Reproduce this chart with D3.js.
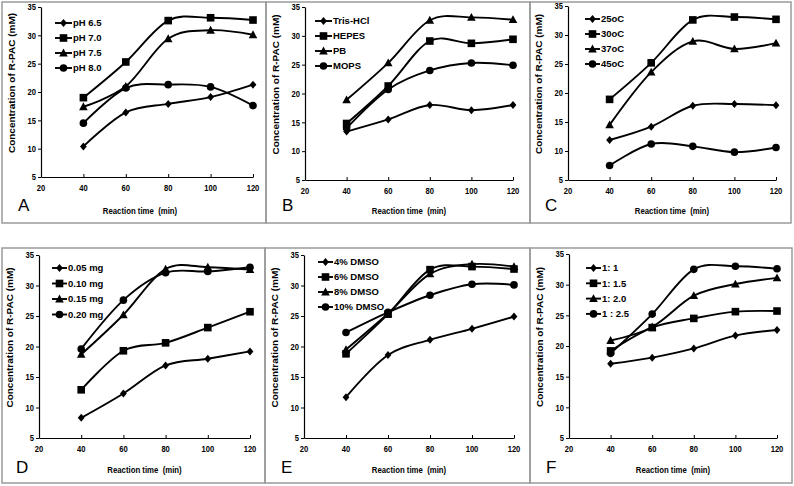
<!DOCTYPE html>
<html><head><meta charset="utf-8">
<script src="https://cdn.jsdelivr.net/npm/d3@7"></script>
<style>body{margin:0;background:#fff;} text{font-family:"Liberation Sans",Arial,Helvetica,sans-serif;white-space:pre;}</style>
</head><body><svg id="c" width="794" height="486"></svg>
<script>
// ---------- data ----------
const times = [40, 60, 80, 100, 120];
const xTicks = [20, 40, 60, 80, 100, 120];
const yTicks = [5, 10, 15, 20, 25, 30, 35];
const xTitle = "Reaction time  (min)";
const yTitle = "Concentration of R-PAC (mM)";
const letters = ["A", "B", "C", "D", "E", "F"];
const markerOrder = ["diamond", "square", "triangle", "circle"];

const namesA = ["pH 6.5", "pH 7.0", "pH 7.5", "pH 8.0"];
const valuesA = [
  [10.4, 16.4, 17.9, 19.1, 21.3],
  [19.0, 25.3, 32.6, 33.1, 32.7],
  [17.4, 21.0, 29.4, 30.9, 30.1],
  [14.5, 20.7, 21.3, 20.9, 17.6]
];
const namesB = ["Tris-HCl", "HEPES", "PB", "MOPS"];
const valuesB = [
  [13.4, 15.5, 18.0, 17.1, 18.0],
  [14.8, 21.3, 29.1, 28.7, 29.4],
  [18.9, 25.3, 32.7, 33.2, 32.8],
  [14.0, 20.7, 24.0, 25.3, 24.9]
];
const namesC = ["25oC", "30oC", "37oC", "45oC"];
const valuesC = [
  [11.9, 14.2, 17.8, 18.1, 17.9],
  [18.9, 25.2, 32.6, 33.1, 32.7],
  [14.5, 23.6, 28.9, 27.6, 28.6],
  [7.5, 11.2, 10.8, 9.8, 10.6]
];
const namesD = ["0.05 mg", "0.10 mg", "0.15 mg", "0.20 mg"];
const valuesD = [
  [8.3, 12.3, 16.9, 18.0, 19.2],
  [12.9, 19.3, 20.6, 23.1, 25.7],
  [18.7, 25.2, 32.7, 33.0, 32.6],
  [19.6, 27.6, 32.1, 32.3, 33.0]
];
const namesE = ["4% DMSO", "6% DMSO", "8% DMSO", "10% DMSO"];
const valuesE = [
  [11.7, 18.6, 21.1, 22.9, 24.9],
  [18.8, 25.3, 32.6, 33.1, 32.7],
  [19.5, 25.4, 31.9, 33.5, 33.1],
  [22.3, 25.6, 28.4, 30.2, 30.1]
];
const namesF = ["1: 1", "1: 1.5", "1: 2.0", "1 : 2.5"];
const valuesF = [
  [17.1, 18.1, 19.6, 21.7, 22.6],
  [19.2, 23.0, 24.5, 25.6, 25.7],
  [20.9, 23.1, 28.2, 30.1, 31.1],
  [18.8, 25.2, 32.5, 33.0, 32.6]
];
const panelNames = [namesA, namesB, namesC, namesD, namesE, namesF];
const panelValues = [valuesA, valuesB, valuesC, valuesD, valuesE, valuesF];

// ---------- layout ----------
const layout = [
  {frame: [2, 2, 266, 223], x0: 41, x1: 253, yT: 7, yB: 177, leg: [55, 72, 23, 15], xtc: 140, base: 211, xtb: 214},
  {frame: [266, 2, 530, 223], x0: 305, x1: 513, yT: 7, yB: 180, leg: [315, 332, 21, 15], base: 211, xtb: 214},
  {frame: [530, 2, 791, 223], x0: 568, x1: 776, yT: 6, yB: 180, leg: [585, 600, 19, 15], base: 211, xtb: 214},
  {frame: [2, 248, 265, 483], x0: 39, x1: 250, yT: 255, yB: 438, leg: [52, 67, 268, 15.5], base: 473, xtb: 473},
  {frame: [265, 248, 530, 483], x0: 304, x1: 514, yT: 255, yB: 438, leg: [318, 333, 262, 15], base: 473, xtb: 473},
  {frame: [530, 248, 792, 483], x0: 569, x1: 777, yT: 254, yB: 438, leg: [586, 601, 268, 15.3], base: 473, xtb: 473}
];

const svg = d3.select("#c");

function marker(g, type, x, y) {
  if (type === "diamond") {
    g.append("path").attr("d", `M${x},${y-4}L${x+3.4},${y}L${x},${y+4}L${x-3.4},${y}Z`).attr("fill", "#000");
  } else if (type === "square") {
    g.append("rect").attr("x", x - 3.8).attr("y", y - 3.8).attr("width", 7.6).attr("height", 7.6).attr("fill", "#000");
  } else if (type === "triangle") {
    g.append("path").attr("d", `M${x},${y-4.4}L${x+4.3},${y+3.4}L${x-4.3},${y+3.4}Z`).attr("fill", "#000");
  } else {
    g.append("circle").attr("cx", x).attr("cy", y).attr("r", 3.8).attr("fill", "#000");
  }
}

layout.forEach((L, i) => {
  const g = svg.append("g");
  const [fx0, fy0, fx1, fy1] = L.frame;
  g.append("rect").attr("x", fx0).attr("y", fy0).attr("width", fx1 - fx0).attr("height", fy1 - fy0)
    .attr("fill", "none").attr("stroke", "#9a9a9a").attr("stroke-width", 1.5);

  const x = d3.scaleLinear().domain([20, 120]).range([L.x0, L.x1]);
  const y = d3.scaleLinear().domain([5, 35]).range([L.yB, L.yT]);

  // axes
  const xa = g.append("g").attr("transform", `translate(0,${L.yB})`)
    .call(d3.axisBottom(x).tickValues(xTicks).tickSizeInner(-3).tickSizeOuter(0).tickPadding(0));
  const ya = g.append("g").attr("transform", `translate(${L.x0},0)`)
    .call(d3.axisLeft(y).tickValues(yTicks).tickSize(3).tickSizeOuter(0).tickPadding(0));
  [xa, ya].forEach(a => {
    a.select(".domain").attr("stroke", "#000").attr("stroke-width", 1.2);
    a.selectAll(".tick line").attr("stroke", "#000").attr("stroke-width", 1);
    a.selectAll("text").remove();
  });
  xTicks.forEach(t => {
    g.append("text").attr("transform", `translate(${x(t)},${L.yB + 14}) scale(0.8,1)`)
      .attr("text-anchor", "middle").attr("font-size", 9.5).attr("font-weight", "bold").text(t);
  });
  yTicks.forEach(t => {
    g.append("text").attr("transform", `translate(${L.x0 - 5},${y(t) + 3.3}) scale(0.8,1)`)
      .attr("text-anchor", "end").attr("font-size", 9.5).attr("font-weight", "bold").text(t);
  });

  // titles
  const xc = L.xtc !== undefined ? L.xtc : (L.x0 + L.x1) / 2;
  g.append("text").attr("transform", `translate(${xc},${L.xtb}) scale(0.82,1)`)
    .attr("text-anchor", "middle").attr("font-size", 9.5).attr("font-weight", "bold").text(xTitle);
  g.append("text").attr("transform", `translate(${L.x0 - 26},${(L.yT + L.yB) / 2 - 9}) rotate(-90) scale(1,0.85)`)
    .attr("text-anchor", "middle").attr("font-size", 10).attr("font-weight", "bold").text(yTitle);
  g.append("text").attr("x", L.x0 - 23).attr("y", L.base)
    .attr("font-size", 17).text(letters[i]);

  // series
  const line = d3.line().x((d, k) => x(times[k])).y(d => y(d)).curve(d3.curveCatmullRom.alpha(0));
  const vals = panelValues[i];
  vals.forEach((s, k) => {
    g.append("path").attr("d", line(s)).attr("fill", "none").attr("stroke", "#000").attr("stroke-width", 1.9);
  });
  vals.forEach((s, k) => {
    s.forEach((v, j) => marker(g, markerOrder[k], x(times[j]), y(v)));
  });

  // legend
  const [lx0, lx1, ly0, ldy] = L.leg;
  panelNames[i].forEach((nm, k) => {
    const yy = ly0 + k * ldy;
    g.append("line").attr("x1", lx0).attr("x2", lx1).attr("y1", yy).attr("y2", yy).attr("stroke", "#000").attr("stroke-width", 1.9);
    marker(g, markerOrder[k], (lx0 + lx1) / 2, yy);
    g.append("text").attr("x", lx1 + 1).attr("y", yy + 3.3).attr("font-size", 9.5).attr("font-weight", "bold").text(nm);
  });
});
</script></body></html>
